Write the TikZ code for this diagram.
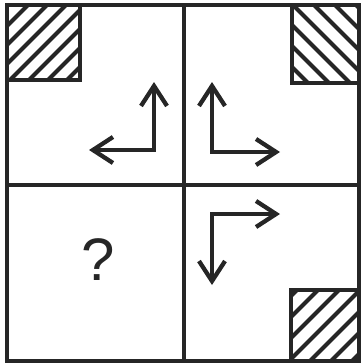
\documentclass[tikz,border=0pt]{standalone}
\usepackage{fontspec}
\setmainfont{Liberation Sans}
\usetikzlibrary{arrows.meta}
\tikzset{
 frame/.style={line width=4.8pt,draw=black!85},
 hatch/.style={line width=4pt,draw=black!85},
 turn/.style={line width=4.3pt,draw=black!85,line cap=butt,
  {Straight Barb[length=20pt,width=26pt,line width=4.3pt]}-{Straight Barb[length=20pt,width=26pt,line width=4.3pt]}},
}
\begin{document}
\begin{tikzpicture}[x=1pt,y=-1pt]
\useasboundingbox (0,0) rectangle (362,364);
% hatched squares
\begin{scope}
\clip (7,5) rectangle (80,80);
\foreach \c in {33,52,71,90,109,128,147} \draw[hatch] (\c,0)--(\c-100,100);
\end{scope}
\draw[frame] (7,5) rectangle (80,80);
\begin{scope}
\clip (292,5) rectangle (359,83);
\foreach \c in {225,246,267,288,309,330,351} \draw[hatch] (\c,0)--(\c+100,100);
\end{scope}
\draw[frame] (292,5) rectangle (359,83);
\begin{scope}
\clip (291,290) rectangle (359,361);
\foreach \c in {587,608,629,650,671,692,713} \draw[hatch] (\c-280,280)--(\c-370,370);
\end{scope}
\draw[frame] (291,290) rectangle (359,361);
% grid
\draw[frame] (7,5) rectangle (359,361);
\draw[frame] (184,5)--(184,361);
\draw[frame] (7,185)--(359,185);
% turning arrows
\coordinate (tlc) at (154,150);
\coordinate (tlu) at (154,82);
\coordinate (tll) at (89,150);
\coordinate (trc) at (212,152);
\coordinate (tru) at (212,82);
\coordinate (trr) at (280,152);
\coordinate (brc) at (212,214);
\coordinate (brr) at (280,214);
\coordinate (brd) at (212,285);
\draw[turn] (tlu)--(tlc)--(tll);
\draw[turn] (tru)--(trc)--(trr);
\draw[turn] (brr)--(brc)--(brd);
\node[text=black!85,font=\fontsize{60}{60}\selectfont] (ask) at (98,260) {?};
\end{tikzpicture}
\end{document}
